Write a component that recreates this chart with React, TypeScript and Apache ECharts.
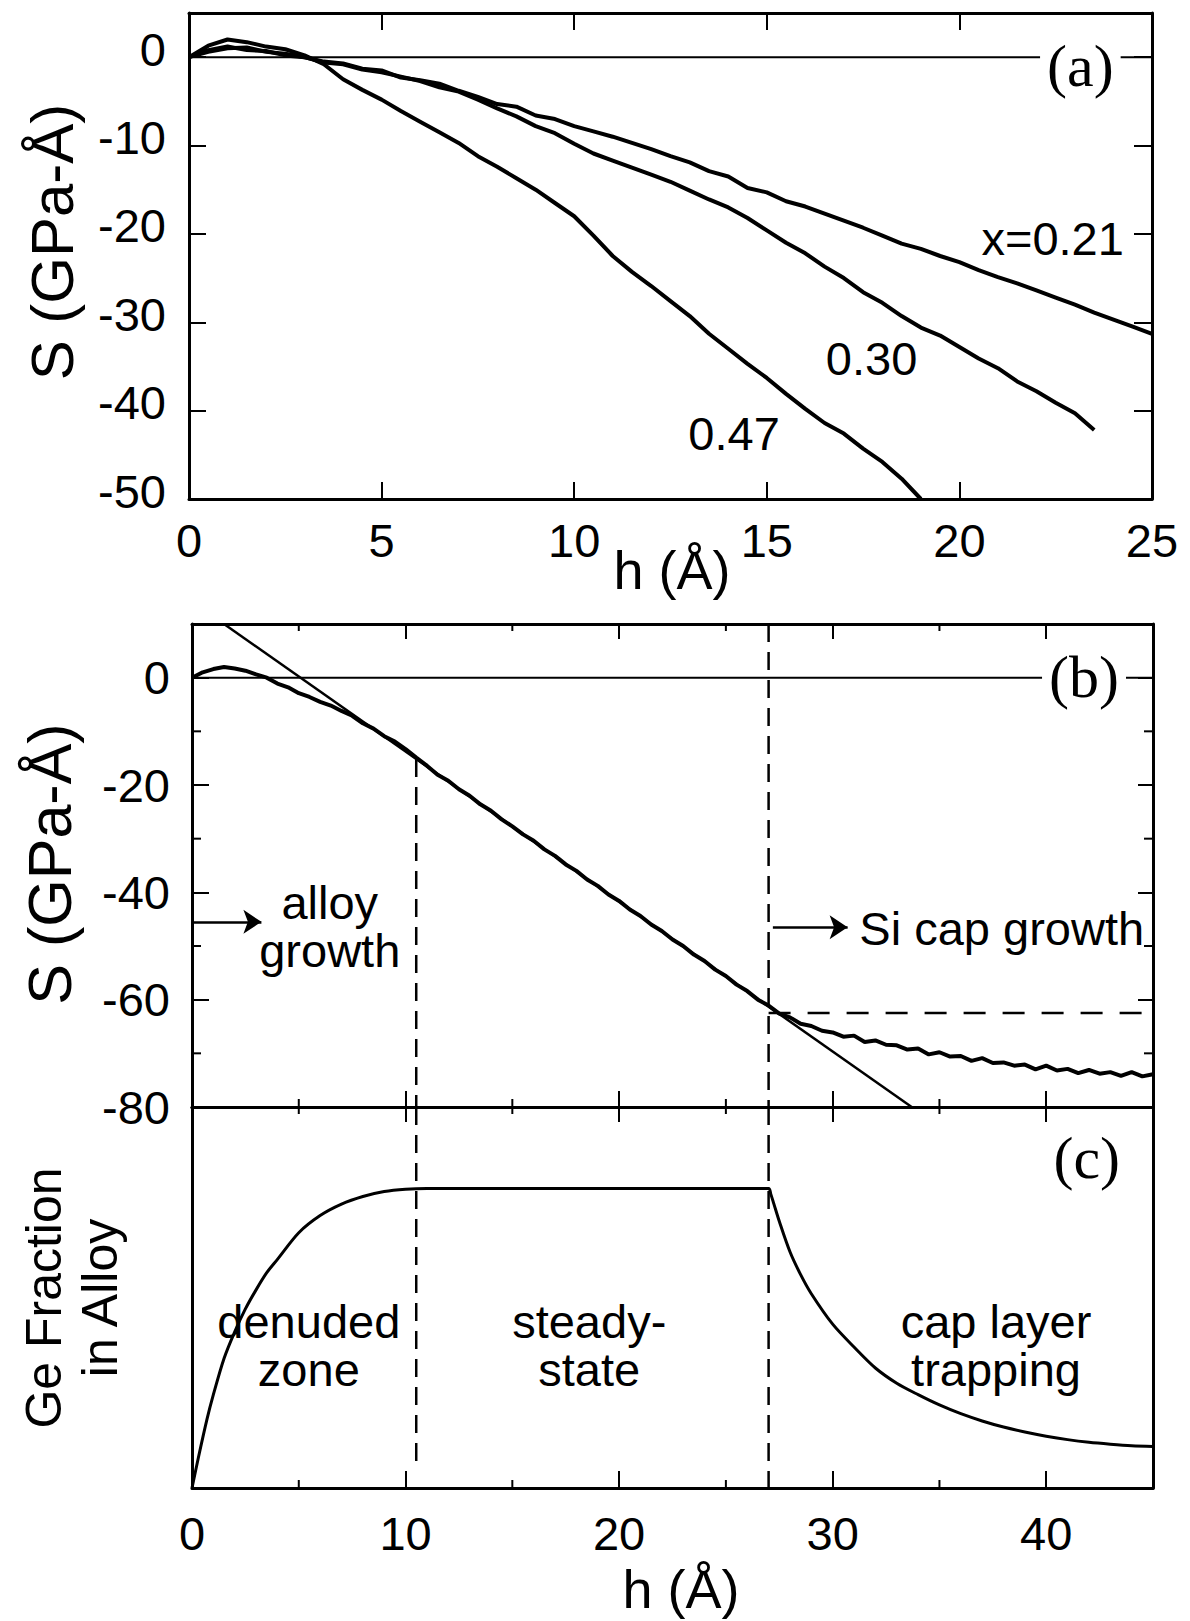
import React, { useEffect, useRef } from "react";
import * as echarts from "echarts";

// ---------- Panel (a): stress-thickness product S against deposited thickness h ----------
const hA = [0, 0.5, 1, 1.5, 2, 2.5, 3, 3.5, 4, 4.5, 5, 5.5, 6, 6.5, 7, 7.5, 8, 8.5, 9, 9.5, 10, 10.5, 11, 11.5, 12, 12.5, 13, 13.5, 14, 14.5, 15, 15.5, 16, 16.5, 17, 17.5, 18, 18.5, 19, 19.5, 20, 20.5, 21, 21.5, 22, 22.5, 23, 23.5, 24, 24.5, 25];
const sX021 = [0.0, 0.8, 1.2, 0.8, 0.7, 0.2, 0.0, -0.5, -0.7, -1.3, -1.5, -2.3, -2.6, -3.0, -3.8, -4.5, -5.3, -5.6, -6.6, -7.0, -7.8, -8.4, -9.0, -9.7, -10.4, -11.2, -11.9, -12.9, -13.5, -14.8, -15.3, -16.3, -16.9, -17.7, -18.5, -19.3, -20.2, -21.1, -21.7, -22.5, -23.2, -24.1, -24.9, -25.6, -26.4, -27.2, -28.0, -28.9, -29.7, -30.5, -31.3];
const sX030 = [0.0, 0.6, 1.0, 1.1, 0.6, 0.4, 0.0, -0.6, -0.8, -1.4, -1.7, -2.2, -2.7, -3.4, -3.9, -4.8, -5.8, -6.7, -7.8, -8.6, -9.8, -10.9, -11.7, -12.5, -13.3, -14.1, -15.1, -16.1, -17.0, -18.2, -19.6, -21.0, -22.2, -23.7, -25.0, -26.6, -27.8, -29.3, -30.6, -31.5, -32.8, -34.1, -35.2, -36.7, -37.8, -39.1, -40.3, -42.2];
const sX047 = [0.0, 1.3, 2.0, 1.7, 1.2, 0.9, 0.2, -0.8, -2.5, -3.7, -4.8, -6.1, -7.3, -8.5, -9.7, -11.2, -12.4, -13.7, -15.0, -16.5, -18.0, -20.2, -22.5, -24.3, -25.9, -27.6, -29.3, -31.3, -33.0, -34.7, -36.3, -38.1, -39.8, -41.4, -42.6, -44.3, -45.8, -47.7, -50.0];
const aXTicks = [0, 5, 10, 15, 20, 25];
const aYTicks = [-50, -40, -30, -20, -10, 0];

// ---------- Panel (b): alloy growth followed by a Si cap ----------
const hB = [0, 0.5, 1, 1.5, 2, 2.5, 3, 3.5, 4, 4.5, 5, 5.5, 6, 6.5, 7, 7.5, 8, 8.5, 9, 9.5, 10, 10.5, 11, 11.5, 12, 12.5, 13, 13.5, 14, 14.5, 15, 15.5, 16, 16.5, 17, 17.5, 18, 18.5, 19, 19.5, 20, 20.5, 21, 21.5, 22, 22.5, 23, 23.5, 24, 24.5, 25, 25.5, 26, 26.5, 27, 27.5, 28, 28.5, 29, 29.5, 30, 30.5, 31, 31.5, 32, 32.5, 33, 33.5, 34, 34.5, 35, 35.5, 36, 36.5, 37, 37.5, 38, 38.5, 39, 39.5, 40, 40.5, 41, 41.5, 42, 42.5, 43, 43.5, 44, 44.5, 45];
const sB = [0.0, 1.0, 1.6, 2.0, 1.7, 1.3, 0.6, 0.0, -1.1, -1.8, -2.9, -3.6, -4.5, -5.2, -6.2, -7.1, -8.5, -9.5, -10.9, -11.9, -13.3, -14.9, -16.4, -18.1, -19.2, -20.8, -22.0, -23.6, -24.8, -26.4, -27.7, -29.2, -30.4, -32.0, -33.2, -34.8, -36.0, -37.6, -38.8, -40.4, -41.6, -43.2, -44.4, -46.0, -47.2, -48.8, -50.0, -51.6, -52.8, -54.4, -55.6, -57.2, -58.4, -60.0, -61.1, -62.6, -63.3, -64.5, -64.9, -65.8, -66.1, -66.9, -66.7, -67.9, -67.6, -68.4, -68.5, -69.3, -69.1, -70.2, -69.8, -70.6, -70.5, -71.4, -70.9, -71.8, -71.7, -72.3, -72.1, -73.0, -72.3, -73.2, -72.9, -73.7, -73.1, -73.8, -73.5, -74.2, -73.5, -74.3, -73.9];
const fitH = [1.5, 33.7];
const fitS = [10, -80];
const bXTicks = [0, 10, 20, 30, 40];
const bXMinor = [5, 15, 25, 35];
const bYTicks = [-80, -60, -40, -20, 0];
const bYMinor = [-70, -50, -30, -10];
const denudedEnd = 10.5;
const capStart = 27;
const capPlateauS = -62.5;

// ---------- Panel (c): Ge fraction incorporated in the alloy ----------
const hC = [0, 0.3, 0.7, 1, 1.5, 2, 2.5, 3, 3.5, 4, 5, 6, 7, 8, 9, 10, 11, 27, 27.1, 27.25, 27.5, 28, 28.5, 29, 30, 31, 32, 33, 34, 35, 36, 37, 38, 39, 40, 41, 42, 43, 44, 45];
const fC = [0, 0.08, 0.18, 0.245, 0.34, 0.41, 0.47, 0.52, 0.565, 0.6, 0.67, 0.715, 0.745, 0.765, 0.778, 0.784, 0.786, 0.786, 0.772, 0.745, 0.7, 0.62, 0.56, 0.51, 0.43, 0.37, 0.315, 0.275, 0.245, 0.218, 0.195, 0.176, 0.16, 0.147, 0.136, 0.127, 0.12, 0.115, 0.111, 0.109];
const cXLabels = [0, 10, 20, 30, 40];

const INK = "#000";
const SANS = '"Liberation Sans", Arial, Helvetica, sans-serif';
const SERIF = '"Liberation Serif", "Times New Roman", Times, serif';

const zip = (xs: number[], ys: number[]) => ys.map((y, i) => [xs[i], y]);

const fitAt = (h: number) =>
  fitS[0] + ((fitS[1] - fitS[0]) * (h - fitH[0])) / (fitH[1] - fitH[0]);

function valueAxis(extra: any) {
  return {
    type: "value",
    splitLine: { show: false },
    axisLine: { show: true, onZero: false, lineStyle: { color: INK, width: 3 } },
    axisTick: { show: false },
    axisLabel: { show: false },
    ...extra,
  };
}

const ticks = (values: number[], length: number) => ({
  show: true,
  inside: true,
  length,
  customValues: values,
  lineStyle: { color: INK, width: 2 },
});

const tickLabels = (values: number[], margin: number, extra: any = {}) => ({
  show: true,
  customValues: values,
  margin,
  fontSize: 47,
  fontFamily: SANS,
  color: INK,
  ...extra,
});

function curve(xi: number, data: number[][], width: number, extra: any = {}) {
  return {
    type: "line",
    xAxisIndex: xi,
    yAxisIndex: xi,
    data,
    symbol: "none",
    showSymbol: false,
    silent: true,
    lineStyle: { color: INK, width },
    z: 3,
    ...extra,
  };
}

function dashed(xi: number, data: number[][], dash: number[]) {
  return curve(xi, data, 2.5, { lineStyle: { color: INK, width: 2.5, type: dash } });
}

function minorTicks(xi: number, pts: number[][], dx: number, dy: number) {
  return {
    type: "custom",
    xAxisIndex: xi,
    yAxisIndex: xi,
    silent: true,
    clip: false,
    z: 4,
    data: pts,
    renderItem: (_p: any, api: any) => {
      const p = api.coord([api.value(0), api.value(1)]);
      return {
        type: "line",
        shape: { x1: p[0], y1: p[1], x2: p[0] + dx, y2: p[1] + dy },
        style: { stroke: INK, lineWidth: 2 },
      };
    },
  };
}

type Note = {
  at: number[];
  text: string;
  align?: string;
  serif?: boolean;
  knockout?: boolean;
  lineHeight?: number;
};

function notes(xi: number, items: Note[]) {
  return {
    type: "scatter",
    xAxisIndex: xi,
    yAxisIndex: xi,
    symbolSize: 0,
    silent: true,
    z: 10,
    itemStyle: { color: INK, opacity: 1 },
    data: items.map((n) => ({
      value: n.at,
      label: {
        show: true,
        formatter: n.text,
        position: [0, 0],
        align: n.align || "center",
        verticalAlign: "middle",
        fontSize: n.serif ? 60 : 47,
        fontFamily: n.serif ? SERIF : SANS,
        color: INK,
        opacity: 1,
        textBorderWidth: 0,
        lineHeight: n.lineHeight || (n.serif ? 64 : 50),
        backgroundColor: n.knockout ? "#fff" : "transparent",
        padding: n.knockout ? [0, 7] : 0,
      },
    })),
  };
}

function axisTitle(x: number, y: number, text: string, rotated: boolean, size = 54, lineHeight = 60) {
  return {
    type: "text",
    x,
    y,
    rotation: rotated ? Math.PI / 2 : 0,
    silent: true,
    style: {
      text,
      fontSize: size,
      fontFamily: SANS,
      fill: INK,
      align: "center",
      verticalAlign: "middle",
      lineHeight,
    },
  };
}

function buildOption() {
  const gridA = { left: 189, top: 13, width: 963, height: 486 };
  const gridB = { left: 192, top: 624, width: 961, height: 483 };
  const gridC = { left: 192, top: 1107, width: 961, height: 381 };

  return {
    animation: false,
    backgroundColor: "#fff",
    grid: [
      { ...gridA, containLabel: false },
      { ...gridB, containLabel: false },
      { ...gridC, containLabel: false },
    ],
    xAxis: [
      valueAxis({ gridIndex: 0, position: "bottom", min: 0, max: 25, interval: 5, axisTick: ticks(aXTicks, 17), axisLabel: tickLabels(aXTicks, 18) }),
      valueAxis({ gridIndex: 0, position: "top", min: 0, max: 25, interval: 5, axisTick: ticks(aXTicks, 17) }),
      valueAxis({ gridIndex: 1, position: "bottom", min: 0, max: 45, interval: 10, axisTick: ticks(bXTicks, 16) }),
      valueAxis({ gridIndex: 1, position: "top", min: 0, max: 45, interval: 10, axisTick: ticks(bXTicks, 15) }),
      valueAxis({ gridIndex: 2, position: "bottom", min: 0, max: 45, interval: 10, axisTick: ticks(bXTicks, 17), axisLabel: tickLabels(cXLabels, 22) }),
      valueAxis({ gridIndex: 2, position: "top", min: 0, max: 45, interval: 10, axisTick: ticks(bXTicks, 15) }),
    ],
    yAxis: [
      // the tick labels of panel (a) sit a little above their ticks
      valueAxis({ gridIndex: 0, position: "left", min: -50, max: 5, interval: 10, axisTick: ticks(aYTicks, 17), axisLabel: tickLabels(aYTicks, 23, { verticalAlign: "bottom", lineHeight: 16 }) }),
      valueAxis({ gridIndex: 0, position: "right", min: -50, max: 5, interval: 10, axisTick: ticks(aYTicks, 18) }),
      valueAxis({ gridIndex: 1, position: "left", min: -80, max: 10, interval: 10, axisTick: ticks(bYTicks, 17), axisLabel: tickLabels(bYTicks, 22) }),
      valueAxis({ gridIndex: 1, position: "right", min: -80, max: 10, interval: 10, axisTick: ticks(bYTicks, 15) }),
      valueAxis({ gridIndex: 2, position: "left", min: 0, max: 1 }),
      valueAxis({ gridIndex: 2, position: "right", min: 0, max: 1 }),
    ],
    series: [
      // (a)
      curve(0, [[0, 0], [25, 0]], 2),
      curve(0, zip(hA, sX021), 4),
      curve(0, zip(hA, sX030), 4),
      curve(0, zip(hA, sX047), 4),
      notes(0, [
        { at: [23.14, -1.0], text: "(a)", serif: true, knockout: true },
        { at: [24.27, -20.5], text: "x=0.21", align: "right" },
        { at: [17.72, -34.1], text: "0.30" },
        { at: [14.15, -42.6], text: "0.47" },
      ]),

      // (b)
      curve(2, [[0, 0], [45, 0]], 2),
      dashed(2, [[denudedEnd, fitAt(denudedEnd)], [denudedEnd, -80]], [18, 10]),
      dashed(2, [[capStart, 10], [capStart, -80]], [18, 10]),
      dashed(2, [[capStart, capPlateauS], [45, capPlateauS]], [22, 17]),
      curve(2, zip(fitH, fitS), 2.5, {
        markLine: {
          silent: true,
          animation: false,
          symbol: ["none", "arrow"],
          symbolSize: 18,
          lineStyle: { color: INK, width: 2.5, type: "solid" },
          label: { show: false },
          emphasis: { disabled: true },
          data: [
            [{ coord: [0, -45.5] }, { coord: [3.25, -45.5] }],
            [{ coord: [27.2, -46.5] }, { coord: [30.7, -46.5] }],
          ],
        },
      }),
      curve(2, zip(hB, sB), 4),
      notes(2, [
        { at: [41.77, 0.1], text: "(b)", serif: true, knockout: true },
        { at: [6.45, -46.3], text: "alloy\ngrowth", lineHeight: 48 },
        { at: [31.25, -46.8], text: "Si cap growth", align: "left" },
      ]),
      minorTicks(2, bXMinor.map((h) => [h, -80]), 0, -8),
      minorTicks(2, bXMinor.map((h) => [h, 10]), 0, 7),
      minorTicks(2, bYMinor.map((s) => [0, s]), 9, 0),
      minorTicks(2, bYMinor.map((s) => [45, s]), -9, 0),

      // (c)
      dashed(4, [[denudedEnd, 1], [denudedEnd, 0.055]], [18, 10]),
      dashed(4, [[capStart, 1], [capStart, 0]], [18, 10]),
      curve(4, zip(hC, fC), 3, { smooth: 0.3 }),
      notes(4, [
        { at: [41.9, 0.865], text: "(c)", serif: true },
        { at: [5.47, 0.373], text: "denuded\nzone", lineHeight: 48 },
        { at: [18.6, 0.373], text: "steady-\nstate", lineHeight: 48 },
        { at: [37.65, 0.373], text: "cap layer\ntrapping", lineHeight: 48 },
      ]),
      minorTicks(4, bXMinor.map((h) => [h, 1]), 0, 7),
      minorTicks(4, bXMinor.map((h) => [h, 0]), 0, -8),
    ],
    graphic: [
      axisTitle(52, 242, "S (GPa-Å)", true, 60),
      axisTitle(50, 864, "S (GPa-Å)", true, 61),
      axisTitle(72, 1298, "Ge Fraction\nin Alloy", true, 50, 56),
      axisTitle(672, 570, "h (Å)", false),
      axisTitle(681, 1589, "h (Å)", false),
    ],
  };
}

export default function App() {
  const ref = useRef<HTMLDivElement>(null);

  useEffect(() => {
    document.body.style.margin = "0";
    document.body.style.overflow = "hidden";
    if (!ref.current) return;
    const chart = echarts.init(ref.current, undefined, { renderer: "svg" });
    chart.setOption(buildOption() as any);
    return () => chart.dispose();
  }, []);

  return <div ref={ref} style={{ width: 1190, height: 1621, background: "#fff" }} />;
}
